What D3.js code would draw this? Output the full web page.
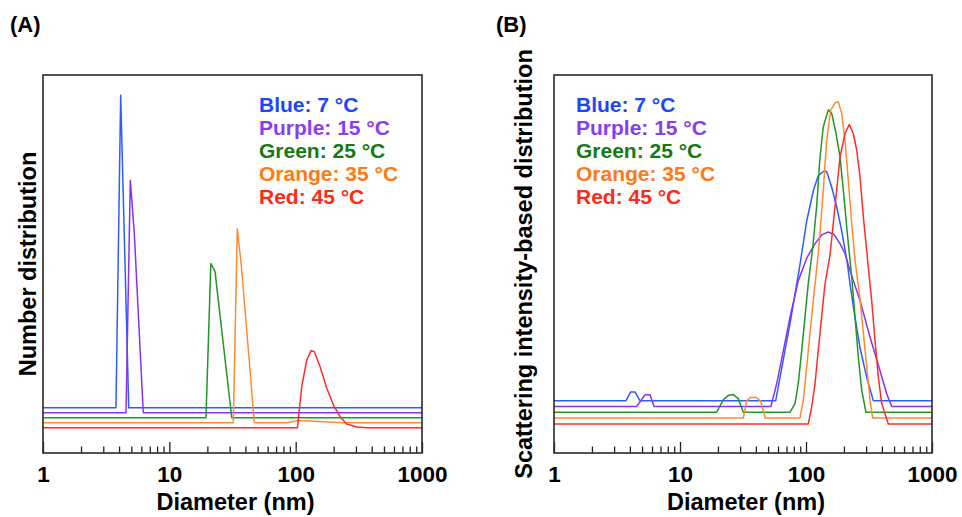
<!DOCTYPE html>
<html>
<head>
<meta charset="utf-8">
<script src="https://cdn.jsdelivr.net/npm/d3@7"></script>
<style>
  html, body { margin: 0; padding: 0; background: #fff; }
  svg { display: block; }
  text { font-family: "Liberation Sans", Arial, Helvetica, sans-serif; font-weight: bold; }
</style>
</head>
<body>
<svg id="chart" width="962" height="517"></svg>
<script>
// ---- Series definitions ----
const seriesNames = ["Blue", "Purple", "Green", "Orange", "Red"];
const temperatures = [7, 15, 25, 35, 45];
const lineColors = ["#2f5bff", "#8a32ee", "#23952a", "#ff8a30", "#ff2b2b"];
const textColors = ["#1d45ff", "#8a3cf0", "#157a15", "#ff7a14", "#ff2a16"];
// vertical shift of each trace so the baselines are stacked
const baselineShift = [4, 3, 2, 1, 0];

// ---- Panel A: number distribution, [diameter nm, value] ----
const numBlue   = [[1,0],[3.78,0],[4.12,62],[4.77,0],[1000,0]];
const numPurple = [[1,0],[4.54,0],[4.91,46.1],[5.28,35.6],[6.22,0],[1000,0]];
const numGreen  = [[1,0],[19.5,0],[21.3,30.6],[23.0,29.0],[31.2,0],[1000,0]];
const numOrange = [[1,0],[32.1,0],[34.5,38.5],[37.2,31.0],[47.1,0],[85.5,0],[104.5,0.45],[237,0],[1000,0]];
const numRed    = [[1,0],[103.2,0],[111.7,8.15],[122.4,13.45],[132.4,15.3],[140.7,15.1],[156.1,12.1],
                   [176.3,7.84],[198.9,4.52],[224.6,2.2],[253.9,0.75],[304.6,0.15],[365.6,0],[1000,0]];

// ---- Panel B: scattering intensity distribution, [diameter nm, value] ----
const intBlue   = [[1,0],[3.73,0],[4.06,1.5],[4.39,1.5],[4.81,0],[57.5,0],[62.2,4.0],[68.1,8.6],[74.6,13.2],
                   [81.8,18.3],[89.6,23.4],[101.3,30.9],[114.3,36.1],[125.2,38.7],[137.2,39.4],[145.9,39.4],
                   [160,36.7],[175.4,33.3],[192,29.2],[212.9,23.6],[223.4,20.1],[244.9,14.3],[268.4,9.1],
                   [303.2,4.0],[342,0],[1000,0]];
const intPurple = [[1,0],[4.53,0],[5.27,2.0],[5.78,2.0],[6.22,0],[52.7,0],[58.5,3.9],[66.1,9.6],[74.6,15.3],
                   [86.8,21.6],[101.3,25.5],[117.9,28.0],[133.2,29.5],[150.4,30.0],[166.7,29.6],[186.2,28.0],
                   [203.9,26.3],[223.4,23.4],[268.4,18.2],[322.4,11.9],[386.4,6.2],[436.7,2.2],[478.6,0],[1000,0]];
const intGreen  = [[1,0],[19.5,0],[22.1,2.18],[24.2,2.92],[26.5,3.04],[29.0,2.35],[31.8,0],[74.6,0],[81.8,1.5],
                   [86.9,5.0],[92.5,10.7],[98.2,16.4],[104.3,22.2],[112.6,27.9],[121.6,35.5],[129.2,43.9],
                   [137.2,49.1],[150.4,52.0],[160,51.4],[173,48.0],[186.2,43.9],[197.8,38.2],[212.9,30.7],
                   [230.5,23.3],[244.9,16.4],[260.2,9.5],[276.7,3.8],[299.3,0],[1000,0]];
const intOrange = [[1,0],[31.8,0],[33.8,2.98],[36.4,3.56],[40.1,3.56],[43.7,2.92],[47.5,0],[89.6,0],[95.2,3.1],
                   [101.3,8.8],[107.6,14.6],[114.3,20.3],[126,28.9],[137.2,39.2],[145.9,47.8],[157,52.9],
                   [169.8,54.2],[180.3,54.4],[192,52.4],[203.9,47.8],[216.6,40.9],[230.5,33.5],[244.9,27.2],
                   [268.4,20.5],[285.2,14.7],[303.2,8.9],[322.4,3.1],[338.2,0],[1000,0]];
const intRed    = [[1,0],[104.3,0],[110.9,2.9],[117.9,6.9],[125.2,12.7],[133.2,18.4],[141.5,24.1],[155,29.0],
                   [169.8,37.3],[186.2,45.9],[203.9,49.9],[220.7,51.5],[237.4,49.9],[252.6,47.1],[268.4,42.5],
                   [285.2,35.6],[303.2,29.8],[312,27.0],[332,21.3],[353,14.3],[375,8.0],[399,3.5],[450,0],[1000,0]];

// ---- Axis settings ----
const xDomain = [1, 1000];
const xTickLabels = ["1", "10", "100", "1000"];
const xTitle = "Diameter (nm)";

const panels = [
  { tag: "(A)", yTitle: "Number distribution", series: [numBlue, numPurple, numGreen, numOrange, numRed],
    yDomain: [-5, 70], left: 43, right: 422, tagX: 10, yTitleX: 36, legendX: 259 },
  { tag: "(B)", yTitle: "Scattering intensity-based distribution", series: [intBlue, intPurple, intGreen, intOrange, intRed],
    yDomain: [-5, 60], left: 554, right: 932, tagX: 496, yTitleX: 532, legendX: 576 }
];

const plotTop = 75, plotBottom = 453;
const svg = d3.select("#chart");

panels.forEach(p => {
  const x = d3.scaleLog().domain(xDomain).range([p.left, p.right]);
  const y = d3.scaleLinear().domain(p.yDomain).range([plotBottom, plotTop]);
  const g = svg.append("g");

  // traces
  const line = d3.line().x(d => x(d[0])).y(d => y(d[1]));
  p.series.forEach((s, i) => {
    const shifted = s.map(d => [d[0], d[1] + baselineShift[i]]);
    g.append("path")
      .datum(shifted)
      .attr("d", line)
      .attr("fill", "none")
      .attr("stroke", lineColors[i])
      .attr("stroke-width", 1.5)
      .attr("stroke-linejoin", "round");
  });

  // minor ticks (inward)
  const allTicks = x.ticks();
  const isMajor = v => Math.abs(Math.log10(v) - Math.round(Math.log10(v))) < 1e-9;
  const minorAxis = d3.axisBottom(x)
    .tickValues(allTicks.filter(v => !isMajor(v)))
    .tickSizeInner(-6.5).tickSizeOuter(0).tickFormat("");
  const gMinor = g.append("g").attr("transform", `translate(0,${plotBottom})`).call(minorAxis);
  gMinor.select(".domain").remove();
  gMinor.selectAll("line").attr("stroke", "#222").attr("stroke-width", 1.3);

  // major ticks with labels
  const majors = allTicks.filter(isMajor);
  const majorAxis = d3.axisBottom(x)
    .tickValues(majors)
    .tickSizeInner(-11).tickSizeOuter(0).tickPadding(13)
    .tickFormat((d, i) => xTickLabels[i]);
  const gMajor = g.append("g").attr("transform", `translate(0,${plotBottom})`).call(majorAxis);
  gMajor.select(".domain").remove();
  gMajor.selectAll("line").attr("stroke", "#222").attr("stroke-width", 1.3);
  gMajor.selectAll("text")
    .attr("fill", "#000")
    .style("font-size", "22.5px")
    .style("font-family", "'Liberation Sans', Arial, Helvetica, sans-serif")
    .style("font-weight", "bold");

  // frame
  g.append("rect")
    .attr("x", p.left).attr("y", plotTop)
    .attr("width", p.right - p.left).attr("height", plotBottom - plotTop)
    .attr("fill", "none").attr("stroke", "#2a2a2a").attr("stroke-width", 1.6);

  // x title
  g.append("text")
    .attr("x", (p.left + p.right) / 2 + 3).attr("y", 510)
    .attr("text-anchor", "middle")
    .style("font-size", "23.5px")
    .text(xTitle);

  // y title
  g.append("text")
    .attr("transform", `translate(${p.yTitleX},${(plotTop + plotBottom) / 2}) rotate(-90)`)
    .attr("text-anchor", "middle")
    .style("font-size", "23.5px")
    .text(p.yTitle);

  // panel tag
  g.append("text")
    .attr("x", p.tagX).attr("y", 32)
    .style("font-size", "22px")
    .text(p.tag);

  // legend
  seriesNames.forEach((name, i) => {
    g.append("text")
      .attr("x", p.legendX).attr("y", 111.5 + i * 23)
      .attr("fill", textColors[i])
      .style("font-size", "21px")
      .text(`${name}: ${temperatures[i]} \u00B0C`);
  });
});
</script>
</body>
</html>
